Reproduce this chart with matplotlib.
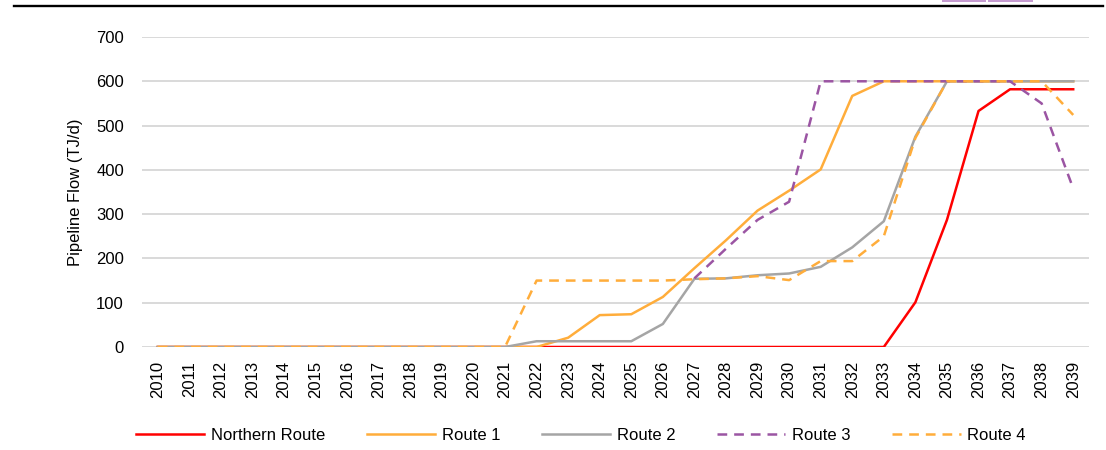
import matplotlib
matplotlib.use('Agg')
import matplotlib.pyplot as plt
from matplotlib.lines import Line2D
from matplotlib.patches import Rectangle
import numpy as np

nan = np.nan

years = [str(y) for y in range(2010, 2040)]

northern = [0]*24 + [101, 287, 533, 582, 582, 582]
route1 = [0]*13 + [21, 72, 74, 113, 178, 241, 308, 353, 401, 567, 600,
                   600, 600, 600, 600, 600, 600]
route2 = [0]*12 + [13, 13, 13, 13, 52, 154, 155, 162, 166, 181, 225, 284,
                   475, 600, 600, 600, 600, 600]
route3 = [nan]*17 + [155, 222, 287, 328, 600, 600, 600, 600, 600, 600,
                     600, 550, 358]
route4 = [0]*12 + [150, 150, 150, 150, 150, 153, 155, 160, 151, 194, 194,
                   250, 472, 600, 600, 600, 600, 524]

names = ['Northern Route', 'Route 1', 'Route 2', 'Route 3', 'Route 4']
yticks = [0, 100, 200, 300, 400, 500, 600, 700]

plt.rcParams['font.family'] = ['Liberation Sans', 'DejaVu Sans']
plt.rcParams['lines.scale_dashes'] = False

fig = plt.figure(figsize=(11.06, 4.5), dpi=100)
ax = fig.add_axes([142/1106, 1-347/450, 947/1106, 310/450])

x = np.arange(len(years))
dash = (0, (7, 5))
ax.plot(x, northern, color='#FF0000', lw=1.8, label=names[0])
ax.plot(x, route1, color='#FFAD3B', lw=1.8, label=names[1])
ax.plot(x, route2, color='#A5A5A5', lw=1.8, label=names[2])
ax.plot(x, route3, color='#9B55A3', lw=1.8, ls=dash, label=names[3])
ax.plot(x, route4, color='#FFAD3B', lw=1.8, ls=dash, label=names[4])

ax.set_xlim(-0.5, len(years) - 0.5)
ax.set_ylim(0, 700)
ax.set_yticks(yticks)
ax.set_xticks(x)
ax.set_xticklabels(years, rotation=90)
ax.tick_params(axis='both', length=0, labelsize=12)
ax.tick_params(axis='y', pad=13)
ax.tick_params(axis='x', pad=10)
ax.grid(axis='y', color='#D9D9D9', lw=1.4, zorder=0)
ax.set_axisbelow(True)
for s in ax.spines.values():
    s.set_visible(False)

ax.set_ylabel('Pipeline Flow (TJ/d)', fontsize=12)
ax.yaxis.set_label_coords(-0.062, 0.5)

fig.legend(loc='center', bbox_to_anchor=(0.525, 1-435/450), ncol=5,
           frameon=False, fontsize=12, handlelength=4.1,
           handletextpad=0.4, columnspacing=2.5)

# header rule and tabs
fig.add_artist(Line2D([14/1106, 1103/1106], [1-6.3/450]*2,
                      color='black', lw=1.7))
for x0, w in [(942, 44), (988, 45)]:
    fig.add_artist(Rectangle((x0/1106, 1-1.5/450), w/1106, 1.5/450,
                             color='#C59BD0', lw=0))

fig.savefig('out.png', dpi=100)
